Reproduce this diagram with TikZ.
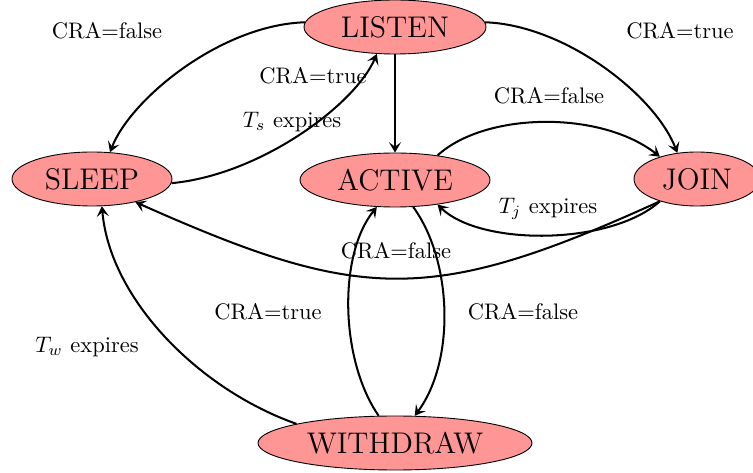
\documentclass[tikz,border=0pt]{standalone}
\usetikzlibrary{arrows.meta,shapes.geometric}
\definecolor{statefill}{RGB}{255,150,150}
\newlength\px
\setlength\px{0.445pt}
\begin{document}
\begin{tikzpicture}[x=0.445pt,y=-0.445pt,
  state/.style={ellipse,draw=black,line width=0.4pt,fill=statefill,
    inner sep=0pt,minimum height=54*\px,font=\fontsize{13.3}{16}\selectfont},
  trans/.style={line width=0.9pt,-{Stealth[length=4.6pt,width=5.4pt,inset=2pt]}},
  lbl/.style={font=\normalsize,inner sep=1pt}]
\useasboundingbox (0,0) rectangle (753,473);

% states
\node[state,minimum width=182*\px] (listen)   at (395,27)  {LISTEN};
\node[state,minimum width=160*\px] (sleep)    at (92,179)  {SLEEP};
\node[state,minimum width=190*\px] (active)   at (395,180) {ACTIVE};
\node[state,minimum width=126*\px] (join)     at (697,179) {JOIN};
\node[state,minimum width=274*\px] (withdraw) at (395,443) {WITHDRAW};

% transitions
\draw[trans] (listen.177) .. controls (220,25) and (130,100) .. (sleep.56);
\draw[trans] (sleep.-3) .. controls (260,175) and (355,105) .. (listen.236);
\draw[trans] (listen.south) -- (active.north);
\draw[trans] (listen.3) .. controls (565,25) and (655,95) .. (join.127);
\draw[trans] (active.30) .. controls (485,112) and (600,110) .. (join.149);
\draw[trans] (join.-149) .. controls (610,246) and (480,246) .. (active.-30);
\draw[trans] (join.-149) .. controls (430,306) and (360,302) .. (sleep.-28);
\draw[trans] (active.-56) .. controls (452,260) and (456,360) .. (withdraw.54);
\draw[trans] (withdraw.121) .. controls (340,360) and (338,255) .. (active.-124);
\draw[trans] (withdraw.169) .. controls (200,390) and (110,300) .. (sleep.-70);

% transition labels
\node[lbl] (t1)  at (107,31)  {CRA=false};
\node[lbl] (t2)  at (680,31)  {CRA=true};
\node[lbl] (t3)  at (313,76)  {CRA=true};
\node[lbl] (t4)  at (292,122) {$T_s$ expires};
\node[lbl] (t5)  at (549,96)  {CRA=false};
\node[lbl] (t6)  at (548,209) {$T_j$ expires};
\node[lbl] (t7)  at (396,251) {CRA=false};
\node[lbl] (t8)  at (268,312) {CRA=true};
\node[lbl] (t9)  at (523,312) {CRA=false};
\node[lbl] (t10) at (87,347)  {$T_w$ expires};
\end{tikzpicture}
\end{document}
